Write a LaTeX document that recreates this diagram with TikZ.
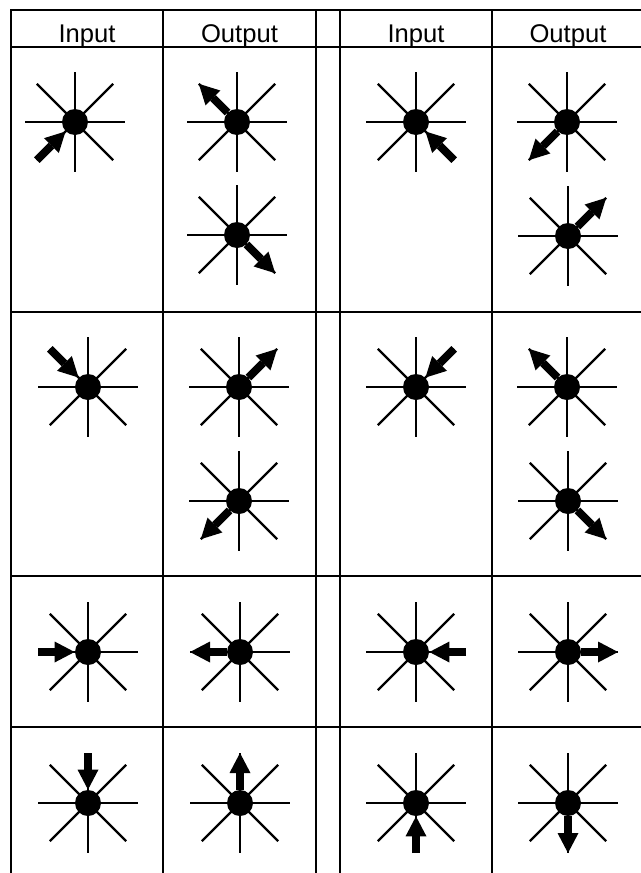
\documentclass[tikz,border=0pt]{standalone}
\usepackage{fontspec}
\setmainfont{Liberation Sans}
\usetikzlibrary{arrows.meta}

\begin{document}
\begin{tikzpicture}[
  x=0.5pt, y=-0.5pt,
  tabline/.style={line width=1.1pt, line cap=rect},
  spoke/.style={line width=1.15pt},
  hub/.style={circle, fill, inner sep=0pt, minimum size=13pt},
  hdr/.style={anchor=base, font=\fontsize{12.8}{15}\selectfont},
  arr/.style={line width=3.9pt, -{Triangle[length=10pt, width=10.5pt, line width=0pt]}}
]
  \useasboundingbox[fill=white] (0,0) rectangle (641,873);
  \foreach \x in {11,163,316,340,492} \draw[tabline] (\x,10) -- (\x,873);
  \foreach \y in {10,47,312,576,727} \draw[tabline] (11,\y) -- (641,\y);

  \node[hdr] (hin) at (87,42) {Input};
  \node[hdr] (hout) at (239.5,42) {Output};
  \node[hdr] (hinR) at (416,42) {Input};
  \node[hdr] (houtR) at (568,42) {Output};

  \foreach \n/\x/\y in {in1/75/122, out1/237/122, out1b/237/235, inR1/416/122, outR1/567/122, outR1b/568/236,
      in2/88/387, out2/239/387, out2b/239/501, inR2/416/387, outR2/567/387, outR2b/568/501,
      in3/88/652, out3/240/652, inR3/416/652, outR3/568/652,
      in4/88/803, out4/240/803, inR4/416/803, outR4/568/803} {
    \foreach \a/\r in {0/50,45/54,90/50,135/54,180/50,225/54,270/50,315/54}
      \draw[spoke] (\x,\y) -- ++(\a:\r) coordinate (\n-\a);
    \node[hub] (\n) at (\x,\y) {};
  }

  \draw[arr] (in1-135) -- (in1);
  \draw[arr] (out1) -- (out1-225);
  \draw[arr] (out1b) -- (out1b-45);
  \draw[arr] (inR1-45) -- (inR1);
  \draw[arr] (outR1) -- (outR1-135);
  \draw[arr] (outR1b) -- (outR1b-315);

  \draw[arr] (in2-225) -- (in2);
  \draw[arr] (out2) -- (out2-315);
  \draw[arr] (out2b) -- (out2b-135);
  \draw[arr] (inR2-315) -- (inR2);
  \draw[arr] (outR2) -- (outR2-225);
  \draw[arr] (outR2b) -- (outR2b-45);

  \draw[arr] (in3-180) -- (in3);
  \draw[arr] (out3) -- (out3-180);
  \draw[arr] (inR3-0) -- (inR3);
  \draw[arr] (outR3) -- (outR3-0);

  \draw[arr] (in4-270) -- (in4);
  \draw[arr] (out4) -- (out4-270);
  \draw[arr] (inR4-90) -- (inR4);
  \draw[arr] (outR4) -- (outR4-90);
\end{tikzpicture}
\end{document}
